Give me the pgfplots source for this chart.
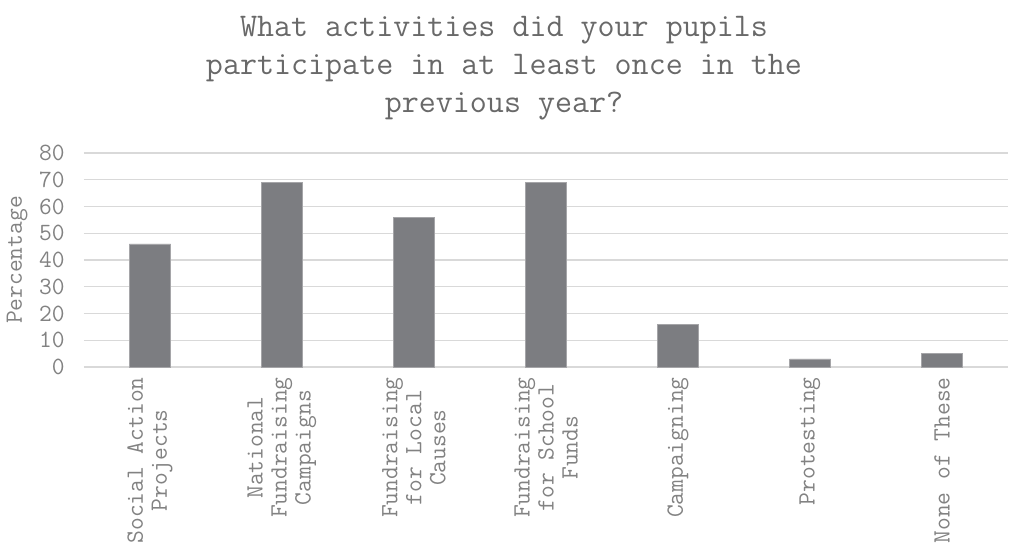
\documentclass[border=0pt]{standalone}
\usepackage{fontspec}
\usepackage{pgfplots}
\pgfplotsset{compat=1.18}
\definecolor{barc}{RGB}{124,125,129}
\definecolor{baredge}{RGB}{165,165,168}
\definecolor{gridc}{RGB}{217,217,217}
\definecolor{tickc}{RGB}{130,130,130}
\definecolor{ttlc}{RGB}{105,105,105}
\begin{document}
\begin{tikzpicture}[x=0.75pt,y=0.75pt]
\useasboundingbox (-84,-184) rectangle (925,367);
\begin{axis}[
  at={(0,0)}, anchor=south west,
  scale only axis, width=693pt, height=160.5pt,
  xmin=-0.5, xmax=6.5, ymin=0, ymax=80,
  ytick={0,10,...,80},
  xtick={0,1,2,3,4,5,6},
  xticklabels={{Social Action\\Projects},{National\\Fundraising\\Campaigns},{Fundraising\\for Local\\Causes},{Fundraising\\for School\\Funds},{Campaigning},{Protesting},{None of These}},
  axis line style={draw=none},
  major tick style={draw=none},
  ymajorgrids, grid style={gridc, line width=1.1pt},
  /pgf/number format/assume math mode=true,
  x tick label style={rotate=90, anchor=east, align=center, font=\ttfamily\fontsize{18.6}{18}\selectfont, text=tickc},
  y tick label style={font=\ttfamily\fontsize{18.6}{18}\selectfont, text=tickc, xshift=-11pt},
  ylabel={Percentage},
  ylabel style={at={(axis description cs:-0.0723,0.5)}, anchor=center, font=\ttfamily\fontsize{18.6}{18}\selectfont, text=tickc},
  ybar, bar width=30.75pt,
  clip=false,
]
\addplot[fill=barc, draw=baredge, line width=0.5pt] coordinates {(0,46) (1,69) (2,56) (3,69) (4,16) (5,3) (6,5)};
\end{axis}
\node[anchor=base, text=ttlc, font=\ttfamily\fontsize{24.8}{28}\selectfont] at (420,331) {What activities did your pupils};
\node[anchor=base, text=ttlc, font=\ttfamily\fontsize{24.8}{28}\selectfont] at (420,293) {participate in at least once in the};
\node[anchor=base, text=ttlc, font=\ttfamily\fontsize{24.8}{28}\selectfont] at (420,255) {previous year?};
\end{tikzpicture}
\end{document}
